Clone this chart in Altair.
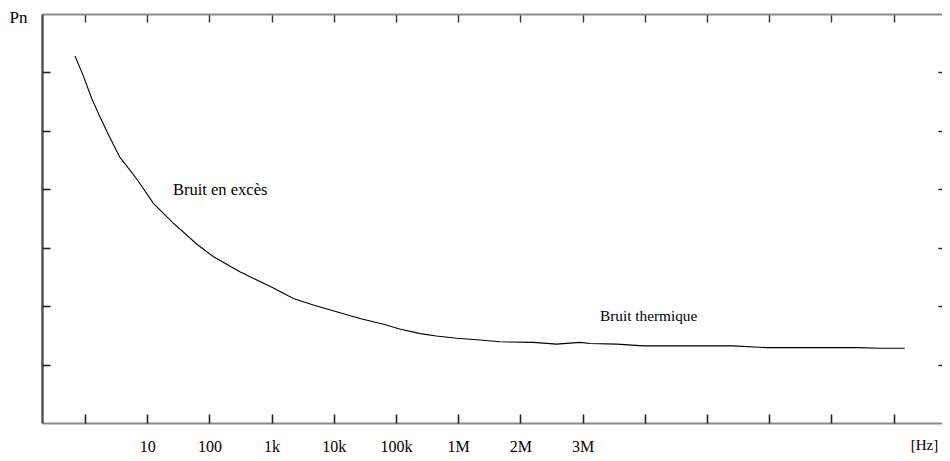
import altair as alt
import pandas as pd

# frequency position along the (non-uniform) axis, in tick units, and noise power Pn
freq_pos = [-0.16, -0.03, 0.11, 0.24, 0.38, 0.56, 0.83, 1.10, 1.42, 1.80, 2.06, 2.49,
            3.03, 3.35, 3.67, 3.99, 4.42, 4.80, 5.06, 5.39, 5.65, 5.98, 6.35, 6.67,
            7.21, 7.58, 7.96, 8.12, 8.55, 8.98, 9.51, 10.42, 10.96, 12.41, 12.78, 13.18]
pn = [6.28, 5.95, 5.55, 5.24, 4.93, 4.55, 4.18, 3.76, 3.42, 3.06, 2.85, 2.59,
      2.31, 2.13, 2.02, 1.92, 1.79, 1.69, 1.61, 1.53, 1.49, 1.45, 1.42, 1.39,
      1.38, 1.35, 1.38, 1.36, 1.35, 1.32, 1.32, 1.32, 1.29, 1.29, 1.28, 1.28]

x_ticks = list(range(14))
x_labels = ['', '10', '100', '1k', '10k', '100k', '1M', '2M', '3M', '', '', '', '', '']
y_ticks = [1, 2, 3, 4, 5, 6]

ann_text = ['Bruit en excès', 'Bruit thermique']
ann_x = [1.415, 8.28]
ann_y = [3.98, 1.83]

W, H = 900, 409
X_DOMAIN = [-0.691, -0.691 + W / 62.2]
Y_DOMAIN = [0, 7]
FONT = 'Liberation Serif'

df = pd.DataFrame({'f': freq_pos, 'pn': pn, 'i': range(len(pn))})
ann = pd.DataFrame({'f': ann_x, 'pn': ann_y, 'txt': ann_text})

label_expr = '[' + ','.join(f"'{l}'" for l in x_labels) + '][datum.value]'
xs = alt.Scale(domain=X_DOMAIN, nice=False, zero=False)
ys = alt.Scale(domain=Y_DOMAIN, nice=False, zero=False)

# main axes: bottom labels + left domain, titles
line = alt.Chart(df).mark_line(color='black', strokeWidth=1.1).encode(
    x=alt.X('f:Q', scale=xs, axis=alt.Axis(
        orient='bottom', values=x_ticks, labelExpr=label_expr, ticks=False, tickSize=0,
        grid=False, domainColor='#8a8a8a', domainWidth=2, labelFont=FONT,
        labelFontSize=16, labelColor='black', labelPadding=15, labelAlign='center',
        labelFlush=False, labelOverlap=False, labelBound=False,
        title='[Hz]', titleX=882, titleY=21.5, titleAlign='center', titleBaseline='middle',
        titleFont=FONT, titleFontSize=15, titleFontWeight='normal', titleColor='black')),
    y=alt.Y('pn:Q', scale=ys, axis=alt.Axis(
        orient='left', values=y_ticks, labels=False, ticks=False, tickSize=0, grid=False,
        domainColor='#555555', domainWidth=2.5,
        title='Pn', titleAngle=0, titleX=-24, titleY=3.5, titleAlign='center',
        titleBaseline='middle', titleFont=FONT, titleFontSize=17,
        titleFontWeight='normal', titleColor='black')),
    order='i:Q',
)

# "Bruit en excès" + inward ticks on bottom and left edges
text1 = alt.Chart(ann).transform_filter(alt.datum.txt == ann_text[0]).mark_text(
    font=FONT, fontSize=16.5, align='left', baseline='middle', color='black').encode(
    x=alt.X('f:Q', scale=xs, axis=alt.Axis(
        orient='top', offset=-H, values=x_ticks, labels=False, domain=False, grid=False,
        tickSize=9, tickColor='#222222', tickWidth=1.6, title=None)),
    y=alt.Y('pn:Q', scale=ys, axis=alt.Axis(
        orient='right', offset=-W, values=y_ticks, labels=False, domain=False, grid=False,
        tickSize=8, tickColor='#222222', tickWidth=1.6, title=None)),
    text='txt:N',
)

# "Bruit thermique" + top border with ticks and right-edge ticks
text2 = alt.Chart(ann).transform_filter(alt.datum.txt == ann_text[1]).mark_text(
    font=FONT, fontSize=15.3, align='left', baseline='middle', color='black').encode(
    x=alt.X('f:Q', scale=xs, axis=alt.Axis(
        orient='bottom', offset=-H, values=x_ticks, labels=False, grid=False,
        domainColor='#8a8a8a', domainWidth=2, tickSize=8, tickColor='#333333',
        tickWidth=1.4, title=None)),
    y=alt.Y('pn:Q', scale=ys, axis=alt.Axis(
        orient='left', offset=-W, values=y_ticks, labels=False, domain=False, grid=False,
        tickSize=4, tickColor='#222222', tickWidth=1.4, title=None)),
    text='txt:N',
)

chart = alt.layer(line, text1, text2).resolve_axis(x='independent', y='independent').properties(
    width=W, height=H,
    autosize=alt.AutoSizeParams(type='none'),
    padding={'left': 34, 'top': 6, 'right': 0, 'bottom': 30},
).configure_view(stroke=None).configure(background='white')

chart.save('out.html', embed_options={'renderer': 'svg', 'actions': False})
